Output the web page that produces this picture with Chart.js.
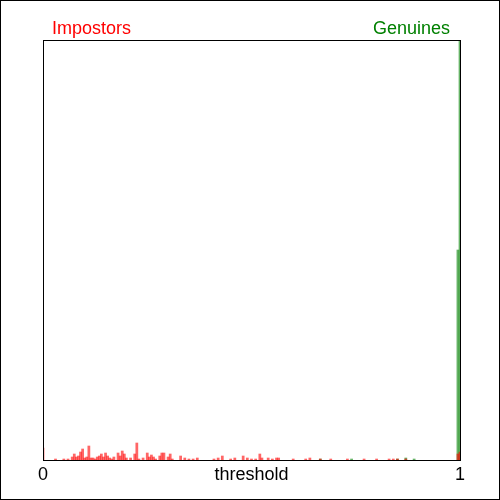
<!DOCTYPE html>
<html><head><meta charset="utf-8">
<script src="https://cdn.jsdelivr.net/npm/chart.js@4/dist/chart.umd.min.js"></script>
<style>
html,body{margin:0;padding:0;background:#fff;}
#wrap{width:498px;height:498px;border:1px solid #000;background:#fff;}
canvas{display:block;}
</style></head><body><div id="wrap"><canvas id="c" width="498" height="498"></canvas></div>
<script>
// Histogram bins: bin k is centred on threshold k/200 (0 .. 1)
const binsPerUnit = 200;
const seriesNames = ['Impostors', 'Genuines'];
const impostorBins   = [0,6,10,12,14,15,16,17,18,19,20,21,22,23,24,25,26,27,28,29,30,31,32,33,34,36,37,38,39,40,42,44,45,46,48,50,51,52,53,54,56,57,58,60,61,62,66,68,70,72,74,82,84,86,90,92,96,98,100,102,104,105,108,110,112,113,120,126,128,133,138,146,154,160,166,168,170,174,199,200];
const impostorCounts = [12,1,1,1,3,6,3,4,8,11,2,3,14,2,2,1,3,4,6,3,7,4,2,1,3,7,4,9,6,2,2,6,17,1,2,7,3,5,3,1,4,7,7,3,6,1,4,2,1,1,2,1,2,4,1,2,4,2,1,1,6,2,2,1,2,2,1,1,2,1,1,1,1,1,1,1,1,1,6,8];
const genuineBins    = [133,148,170,174,178,199,200];
const genuineCounts  = [1,1,1,2,1,210,420];
const tickValues = [0, 0.5, 1];
const tickLabels = ['0', 'threshold', '1'];

const toPoints = (bins, counts) => bins.map((b, i) => ({x: b / binsPerUnit, y: counts[i]}));

const frame = {
  id: 'frame',
  afterDatasetsDraw(chart) {
    const {ctx, chartArea: a} = chart;
    ctx.save();
    ctx.strokeStyle = '#000';
    ctx.lineWidth = 1;
    ctx.strokeRect(a.left + 0.5, a.top + 0.5, a.right - a.left, a.bottom - a.top);
    ctx.font = '18px "Liberation Sans", Arial, sans-serif';
    ctx.textBaseline = 'alphabetic';
    ctx.fillStyle = '#ff0000';
    ctx.textAlign = 'left';
    ctx.fillText(seriesNames[0], a.left + 9, a.top - 6);
    ctx.fillStyle = '#008000';
    ctx.textAlign = 'right';
    ctx.fillText(seriesNames[1], a.right - 10, a.top - 6);
    ctx.restore();
  }
};

new Chart(document.getElementById('c'), {
  type: 'bar',
  data: {
    datasets: [
      {label: seriesNames[0], data: toPoints(impostorBins, impostorCounts),
       backgroundColor: 'rgba(255,0,0,0.6)', borderWidth: 0, grouped: false, clip: 0,
       barPercentage: 1, categoryPercentage: 1},
      {label: seriesNames[1], data: toPoints(genuineBins, genuineCounts),
       backgroundColor: 'rgba(0,128,0,0.6)', borderWidth: 0, grouped: false, clip: 0,
       barPercentage: 1, categoryPercentage: 1}
    ]
  },
  options: {
    responsive: false,
    animation: false,
    layout: {padding: {left: 42, right: 39, top: 39, bottom: 9}},
    plugins: {legend: {display: false}, tooltip: {enabled: false}},
    scales: {
      x: {
        type: 'linear', min: 0, max: 1, offset: false,
        grid: {display: false, drawTicks: false},
        border: {display: false},
        afterBuildTicks: s => { s.ticks = tickValues.map(v => ({value: v})); },
        afterFit: s => { s.height = 30; },
        ticks: {
          autoSkip: false, maxRotation: 0, padding: 4, color: '#000',
          font: {family: '"Liberation Sans", Arial, sans-serif', size: 18},
          callback: (v, i) => tickLabels[i]
        }
      },
      y: {display: false, min: 0, max: 420}
    }
  },
  plugins: [frame]
});
</script>
</body></html>
